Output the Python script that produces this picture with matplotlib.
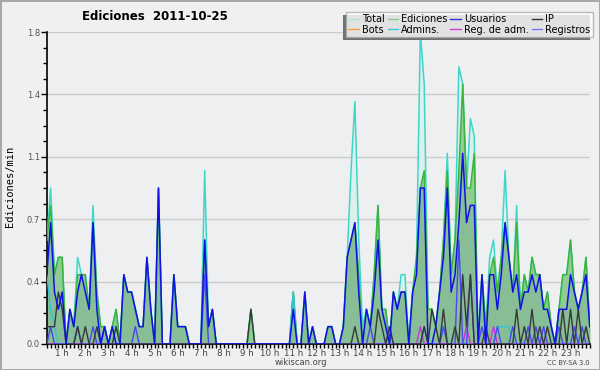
import numpy as np
import matplotlib
matplotlib.use('Agg')
import matplotlib.pyplot as plt
from matplotlib.patches import Rectangle
from matplotlib.ticker import FixedLocator, MultipleLocator

# edits per 10-minute slot, from 00:20 to 23:50 (value / 10 = edits/min)
ediciones = [6, 8, 4, 5, 5, 0, 2, 1, 4, 4, 4, 2, 7, 3, 1, 1, 0, 1, 2, 0,
             4, 3, 3, 2, 1, 1, 5, 2, 0, 9, 0, 0, 0, 4, 1, 1, 1, 0, 0, 0,
             0, 6, 1, 2, 0, 0, 0, 0, 0, 0, 0, 0, 0, 2, 0, 0, 0, 0, 0, 0,
             0, 0, 0, 0, 3, 0, 0, 3, 0, 1, 0, 0, 0, 1, 1, 0, 0, 1, 5, 6,
             7, 4, 0, 2, 1, 4, 8, 2, 2, 0, 3, 2, 3, 3, 0, 3, 5, 9, 10, 2,
             2, 1, 3, 6, 10, 4, 6, 10, 15, 9, 9, 11, 0, 4, 1, 4, 5, 3, 5, 7,
             5, 3, 7, 2, 4, 3, 5, 4, 4, 2, 3, 1, 0, 2, 4, 4, 6, 3, 2, 3,
             5, 1]
total = [6, 9, 4, 5, 5, 0, 2, 1, 5, 4, 4, 2, 8, 3, 1, 1, 0, 1, 2, 0,
         4, 3, 3, 2, 1, 1, 5, 2, 0, 9, 0, 0, 0, 4, 1, 1, 1, 0, 0, 0,
         0, 10, 1, 2, 0, 0, 0, 0, 0, 0, 0, 0, 0, 2, 0, 0, 0, 0, 0, 0,
         0, 0, 0, 0, 3, 0, 0, 3, 0, 1, 0, 0, 0, 1, 1, 0, 0, 1, 5, 10,
         14, 6, 1, 2, 1, 4, 8, 2, 2, 0, 3, 2, 4, 4, 0, 3, 5, 18, 15, 2,
         2, 1, 3, 6, 11, 4, 6, 16, 15, 9, 13, 12, 0, 4, 1, 5, 6, 3, 5, 10,
         5, 3, 8, 2, 4, 3, 5, 4, 4, 2, 3, 1, 0, 2, 4, 4, 6, 3, 2, 3,
         5, 1]
usuarios = [4, 7, 3, 2, 3, 0, 2, 1, 3, 4, 3, 2, 7, 2, 0, 1, 0, 1, 0, 0,
            4, 3, 3, 2, 1, 1, 5, 2, 0, 9, 0, 0, 0, 4, 1, 1, 1, 0, 0, 0,
            0, 6, 1, 2, 0, 0, 0, 0, 0, 0, 0, 0, 0, 0, 0, 0, 0, 0, 0, 0,
            0, 0, 0, 0, 2, 0, 0, 3, 0, 1, 0, 0, 0, 1, 1, 0, 0, 1, 5, 6,
            7, 3, 0, 2, 1, 3, 6, 2, 1, 0, 3, 2, 3, 3, 0, 3, 4, 9, 9, 0,
            0, 1, 3, 5, 9, 3, 4, 7, 11, 7, 8, 8, 0, 4, 0, 4, 4, 2, 4, 7,
            5, 3, 4, 2, 3, 3, 4, 3, 4, 2, 2, 1, 0, 2, 2, 2, 4, 3, 2, 3,
            4, 1]
ip = [1, 1, 1, 3, 2, 0, 0, 0, 1, 0, 1, 0, 0, 1, 0, 0, 0, 0, 1, 0,
      0, 0, 0, 0, 0, 0, 0, 0, 0, 0, 0, 0, 0, 0, 0, 0, 0, 0, 0, 0,
      0, 0, 0, 0, 0, 0, 0, 0, 0, 0, 0, 0, 0, 2, 0, 0, 0, 0, 0, 0,
      0, 0, 0, 0, 0, 0, 0, 0, 0, 0, 0, 0, 0, 0, 0, 0, 0, 0, 0, 0,
      1, 0, 0, 0, 0, 0, 2, 1, 0, 1, 0, 0, 0, 0, 0, 0, 0, 0, 1, 0,
      2, 1, 0, 2, 0, 0, 1, 0, 4, 1, 4, 0, 0, 0, 1, 0, 0, 0, 0, 0,
      0, 0, 2, 0, 1, 0, 2, 0, 1, 0, 1, 0, 0, 0, 2, 0, 2, 0, 2, 0,
      1, 0]
registros = [0, 1, 0, 0, 0, 0, 0, 0, 1, 0, 0, 0, 1, 0, 0, 1, 0, 0, 0, 0,
             0, 0, 0, 1, 0, 0, 0, 0, 0, 0, 0, 0, 0, 0, 0, 0, 0, 0, 0, 0,
             0, 4, 0, 0, 0, 0, 0, 0, 0, 0, 0, 0, 0, 0, 0, 0, 0, 0, 0, 0,
             0, 0, 0, 0, 0, 0, 0, 0, 0, 0, 0, 0, 0, 0, 0, 0, 0, 0, 0, 0,
             0, 0, 0, 0, 1, 0, 0, 0, 0, 1, 0, 0, 0, 0, 0, 0, 0, 0, 1, 0,
             0, 0, 0, 1, 0, 0, 0, 6, 0, 0, 4, 0, 0, 1, 0, 0, 0, 1, 0, 0,
             0, 1, 0, 0, 0, 1, 0, 1, 0, 1, 0, 0, 0, 1, 0, 0, 0, 1, 0, 1,
             0, 0]
admins = [4, 2, 1, 0, 0, 0, 0, 0, 1, 0, 0, 0, 0, 0, 0, 0, 0, 1, 1, 0,
          0, 0, 0, 0, 0, 0, 0, 0, 0, 0, 0, 0, 0, 0, 0, 0, 0, 0, 0, 0,
          0, 0, 0, 0, 0, 0, 0, 0, 0, 0, 0, 0, 0, 0, 0, 0, 0, 0, 0, 0,
          0, 0, 0, 0, 3, 0, 0, 0, 0, 0, 0, 0, 0, 0, 0, 0, 0, 0, 0, 0,
          0, 0, 0, 0, 0, 0, 0, 0, 0, 0, 0, 0, 0, 0, 0, 0, 0, 0, 0, 0,
          0, 0, 0, 1, 0, 0, 0, 0, 0, 0, 0, 0, 0, 0, 0, 0, 0, 1, 1, 1,
          1, 0, 0, 0, 0, 0, 0, 0, 0, 0, 0, 0, 0, 0, 0, 0, 0, 0, 0, 0,
          0, 0]
reg_adm = [0] * 97 + [1] + [0] * 11 + [1] + [0] * 6 + [1] + [0] * 25
bots = [0] * 142

hour_labels = ['%d h' % h for h in range(1, 24)]
y_ticks = [0, 0.36, 0.72, 1.08, 1.44, 1.8]
y_labels = ['0.0', '0.4', '0.7', '1.1', '1.4', '1.8']

x = (20 + 10 * np.arange(len(ediciones))) / 60.0
per_min = lambda v: np.array(v) / 10.0

fig = plt.figure(figsize=(6, 3.7), dpi=100, facecolor='#f0f0f0',
                 edgecolor='#a8a8a8', linewidth=2)
ax = fig.add_axes([0.078, 0.0703, 0.905, 0.843])
ax.set_facecolor('#eeeff1')

# fills
ax.fill_between(x, 0, per_min(total), color='#dcf1ee', lw=0, zorder=1)
ax.fill_between(x, 0, per_min(ediciones), color='#8fc98f', alpha=0.95, lw=0, zorder=2)
ax.fill_between(x, 0, per_min(usuarios), color='#3050b0', alpha=0.10, lw=0, zorder=2)

# lines
ax.plot(x, per_min(total), color='#3fd6c8', lw=1.1, zorder=3)
ax.plot(x, per_min(ediciones), color='#3cb43c', lw=1.1, zorder=4)
ax.plot(x, per_min(bots), color='#f4a040', lw=1, zorder=4)
ax.plot(x, per_min(admins), color='#30c4dc', lw=1, zorder=5)
ax.plot(x, per_min(reg_adm), color='#cc33dd', lw=1, zorder=5)
ax.plot(x, per_min(registros), color='#4848f0', lw=1, zorder=5)
ax.plot(x, per_min(ip), color='#383838', lw=1, zorder=6)
ax.plot(x, per_min(usuarios), color='#1010e8', lw=1.1, zorder=7)

ax.set_xlim(x[0], x[-1])
ax.set_ylim(0, 1.8)
ax.yaxis.set_major_locator(FixedLocator(y_ticks))
ax.set_yticklabels(y_labels)
ax.yaxis.set_minor_locator(MultipleLocator(0.09))
ax.set_xticks(range(1, 24))
ax.set_xticklabels(hour_labels)
ax.xaxis.set_minor_locator(FixedLocator(x))
ax.grid(axis='y', color='#cccccc', lw=1, zorder=0)
ax.set_axisbelow(True)
for s in ['top', 'right']:
    ax.spines[s].set_visible(False)
ax.spines['left'].set_linewidth(1.2)
ax.spines['bottom'].set_linewidth(1.2)
ax.tick_params(axis='y', which='major', length=4, width=1, labelsize=6,
               labelcolor='#555555', pad=1)
ax.tick_params(axis='y', which='minor', length=3, width=1)
ax.tick_params(axis='x', which='both', length=3, width=1, labelsize=6.3,
               labelcolor='#444444', pad=0.5)

fig.text(0.258, 0.955, 'Ediciones  2011-10-25', ha='center', va='center',
         fontsize=8.5, fontweight='bold')
fig.text(0.016, 0.495, 'Ediciones/min', rotation=90, ha='center', va='center',
         fontsize=7.5, family='DejaVu Sans Mono')
fig.text(0.502, 0.008, 'wikiscan.org', ha='center', va='bottom',
         fontsize=6, color='#444444')
fig.text(0.982, 0.01, 'CC BY-SA 3.0', ha='right', va='bottom',
         fontsize=4.8, color='#444444')

handles = [plt.Line2D([], [], color=c, lw=1) for c in
           ['#aee6e0', '#f4a040', '#88cc88', '#40c8d8',
            '#3333dd', '#cc44dd', '#333333', '#7777ee']]
names = ['Total', 'Bots', 'Ediciones', 'Admins.', 'Usuarios',
         'Reg. de adm.', 'IP', 'Registros']
leg = fig.legend(handles, names, ncol=4, loc='upper right',
                 bbox_to_anchor=(0.988, 0.968), fontsize=7, frameon=True,
                 fancybox=False, handlelength=1.1, handletextpad=0.3,
                 columnspacing=0.3, labelspacing=0.05, borderpad=0.25,
                 borderaxespad=0)
leg.get_frame().set_edgecolor('#aaaaaa')
leg.get_frame().set_linewidth(1)
leg.set_zorder(20)

# shadow offset to the lower left, like the original
fig.canvas.draw()
bb = leg.get_window_extent().transformed(fig.transFigure.inverted())
fig.patches.append(Rectangle((bb.x0 - 3 / 600, bb.y0 - 3 / 370), bb.width, bb.height,
                             transform=fig.transFigure, facecolor='#707070',
                             edgecolor='none', zorder=19))

plt.savefig('out.png', dpi=100, facecolor=fig.get_facecolor(),
            edgecolor=fig.get_edgecolor())
